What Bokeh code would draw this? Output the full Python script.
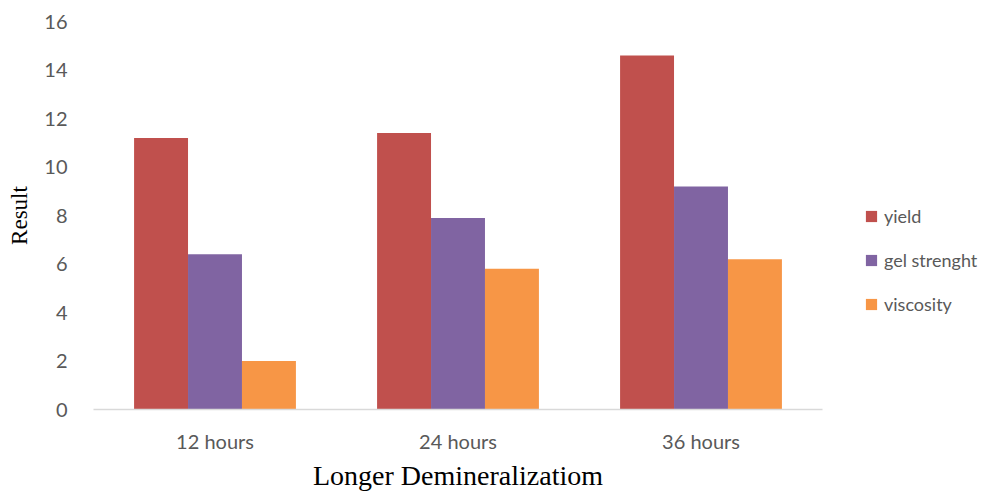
from bokeh.plotting import figure
from bokeh.models import ColumnDataSource, FactorRange, Range1d, Legend, LegendItem, FixedTicker
from bokeh.transform import dodge
from bokeh.embed import file_html
from bokeh.resources import INLINE

categories = ["12 hours", "24 hours", "36 hours"]
yield_vals = [11.2, 11.4, 14.6]
gel_vals = [6.4, 7.9, 9.2]
visc_vals = [2.0, 5.8, 6.2]
y_ticks = [0, 2, 4, 6, 8, 10, 12, 14, 16]

src = ColumnDataSource(dict(cat=categories, yld=yield_vals, gel=gel_vals, visc=visc_vals))

p = figure(x_range=FactorRange(*categories, range_padding=0), y_range=Range1d(0, 16),
           frame_width=729, frame_height=388, output_backend="svg", toolbar_location=None,
           min_border_left=93, min_border_right=185, min_border_top=21, min_border_bottom=84)
p.outline_line_color = None
p.xgrid.grid_line_color = None
p.ygrid.grid_line_color = None

w = 0.222
r1 = p.vbar(x=dodge("cat", -w, range=p.x_range), top="yld", width=w, source=src, color="#C0504D", line_color=None)
r2 = p.vbar(x=dodge("cat", 0, range=p.x_range), top="gel", width=w, source=src, color="#8064A2", line_color=None)
r3 = p.vbar(x=dodge("cat", w, range=p.x_range), top="visc", width=w, source=src, color="#F79646", line_color=None)

p.yaxis.ticker = FixedTicker(ticks=y_ticks)
p.yaxis.axis_line_color = None
p.yaxis.major_tick_line_color = None
p.yaxis.minor_tick_line_color = None
p.yaxis.major_label_standoff = 20
p.yaxis.major_label_text_font = "Lato"
p.yaxis.major_label_text_font_size = "20px"
p.yaxis.major_label_text_color = "#595959"
p.yaxis.axis_label = "Result"
p.yaxis.axis_label_text_font = "Liberation Serif"
p.yaxis.axis_label_text_font_size = "23px"
p.yaxis.axis_label_text_font_style = "normal"
p.yaxis.axis_label_text_color = "#000000"
p.yaxis.axis_label_standoff = 9

p.xaxis.axis_line_color = "#d9d9d9"
p.xaxis.axis_line_width = 1.5
p.xaxis.major_tick_line_color = None
p.xaxis.minor_tick_line_color = None
p.xaxis.major_label_standoff = 13
p.xaxis.major_label_text_font = "Lato"
p.xaxis.major_label_text_font_size = "20px"
p.xaxis.major_label_text_color = "#595959"
p.xaxis.axis_label = "Longer Demineralizatiom"
p.xaxis.axis_label_text_font = "Liberation Serif"
p.xaxis.axis_label_text_font_size = "28px"
p.xaxis.axis_label_text_font_style = "normal"
p.xaxis.axis_label_text_color = "#000000"
p.xaxis.axis_label_standoff = 4

legend = Legend(items=[LegendItem(label="yield", renderers=[r1]),
                       LegendItem(label="gel strenght", renderers=[r2]),
                       LegendItem(label="viscosity", renderers=[r3])],
                location=(42, 94), border_line_color=None, background_fill_alpha=0,
                label_text_font="Lato", label_text_font_size="18px", label_text_color="#595959",
                glyph_width=14, glyph_height=14, spacing=22, label_standoff=6, padding=0, margin=0)
p.add_layout(legend, "right")

open("out.html", "w").write(file_html(p, INLINE))
